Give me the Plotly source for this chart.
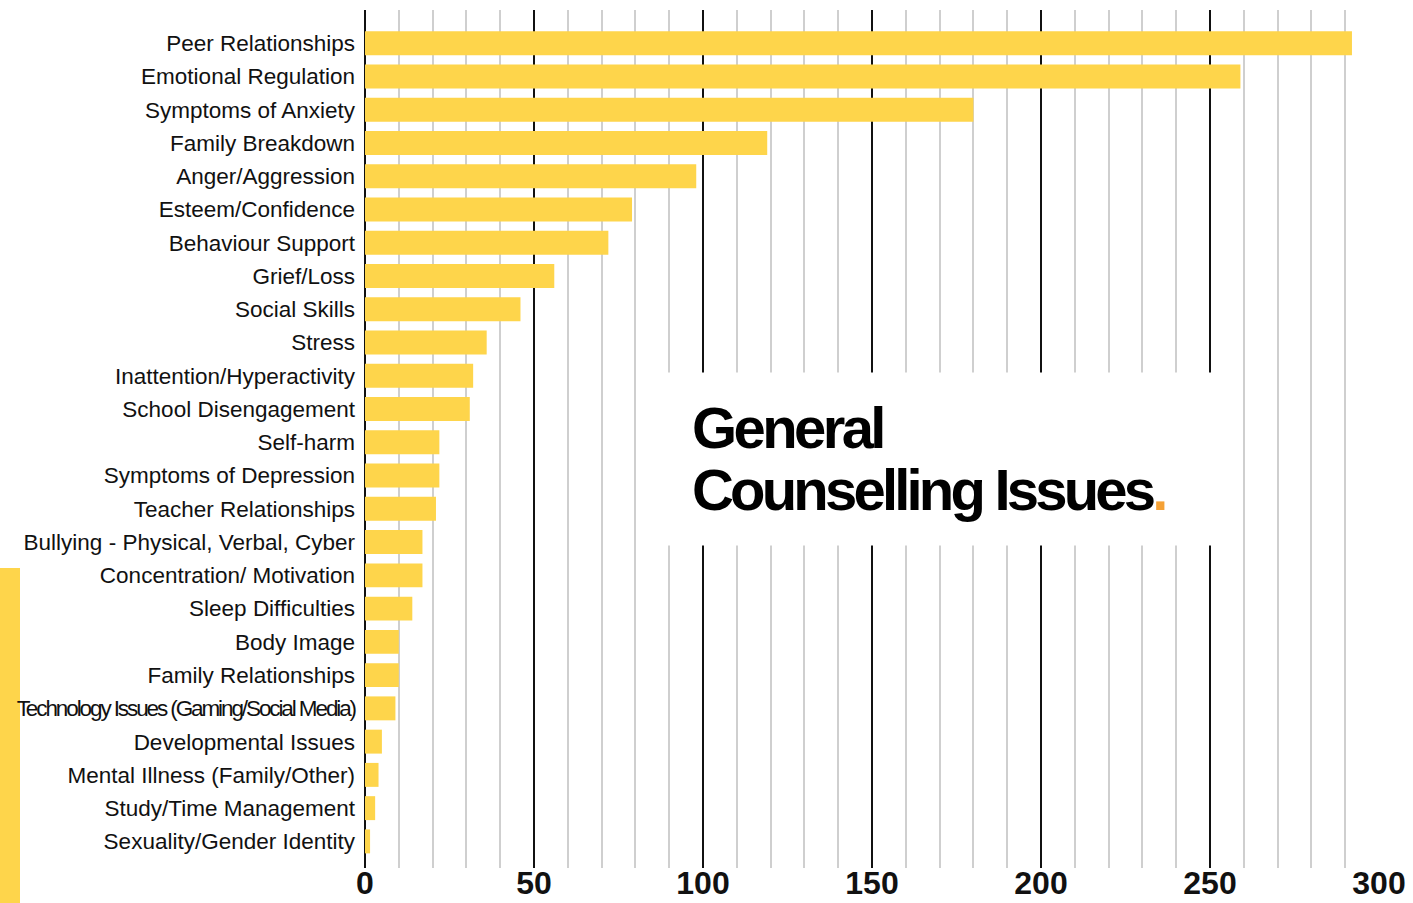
import plotly.graph_objects as go

categories = [
    "Peer Relationships", "Emotional Regulation", "Symptoms of Anxiety", "Family Breakdown",
    "Anger/Aggression", "Esteem/Confidence", "Behaviour Support", "Grief/Loss", "Social Skills",
    "Stress", "Inattention/Hyperactivity", "School Disengagement", "Self-harm",
    "Symptoms of Depression", "Teacher Relationships", "Bullying - Physical, Verbal, Cyber",
    "Concentration/ Motivation", "Sleep Difficulties", "Body Image", "Family Relationships",
    "Technology Issues (Gaming/Social Media)", "Developmental Issues",
    "Mental Illness (Family/Other)", "Study/Time Management", "Sexuality/Gender Identity",
]
values = [292, 259, 180, 119, 98, 79, 72, 56, 46, 36, 32, 31, 22, 22, 21, 17, 17, 14, 10, 10, 9, 5, 4, 3, 1.5]
x_ticks = [0, 50, 100, 150, 200, 250, 300]

YELLOW = "#FED54B"
ORANGE = "#F5A135"

tick_text = []
for c in categories:
    if c.startswith("Technology"):
        tick_text.append('<span style="letter-spacing:-2.1px">' + c + '</span>')
    else:
        tick_text.append(c)

fig = go.Figure()
fig.add_trace(go.Bar(
    x=values, y=list(range(len(categories))), orientation="h",
    marker=dict(color=YELLOW, line=dict(width=0)),
    width=0.72, hoverinfo="x+y",
))

fig.update_layout(
    width=1413, height=903,
    margin=dict(l=365, r=34, t=10, b=35, pad=0, autoexpand=False),
    paper_bgcolor="white", plot_bgcolor="white",
    showlegend=False,
    font=dict(family="Liberation Sans, Arial, sans-serif", color="#111111"),
    xaxis=dict(
        range=[0, 300], tickvals=x_ticks, ticktext=[str(v) for v in x_ticks],
        automargin=False,
        showgrid=True, gridcolor="#111111", gridwidth=2,
        zeroline=True, zerolinecolor="#111111", zerolinewidth=2,
        minor=dict(dtick=10, tick0=0, showgrid=True, gridcolor="#cfcfcf", gridwidth=2, ticks=""),
        ticks="", showline=False,
        tickfont=dict(family="Liberation Sans, Arial, sans-serif", size=32, color="#111111", weight="bold"),
        ticklabelstandoff=-7,
    ),
    yaxis=dict(
        range=[24.8, -1.0], tickvals=list(range(len(categories))), ticktext=tick_text,
        automargin=False,
        showgrid=False, zeroline=False, showline=False, ticks="",
        tickfont=dict(family="Liberation Sans, Arial, sans-serif", size=22.5, color="#111111"),
        ticklabelstandoff=9,
    ),
    bargap=0.28,
)

# white panel behind the title
fig.add_shape(type="rect", xref="x", yref="y", x0=87.5, x1=252.5, y0=9.9, y1=15.1,
              fillcolor="white", line=dict(width=0), layer="above")

# yellow accent strip at the left edge
fig.add_shape(type="rect", xref="paper", yref="paper",
              x0=-365/1014, x1=(20-365)/1014, y0=(868-568)/858, y1=(868-903)/858,
              fillcolor=YELLOW, line=dict(width=0), layer="below")

title_font = dict(family="Liberation Sans, Arial, sans-serif", size=58, color="#000000", weight="bold")
fig.add_annotation(
    xref="x", yref="paper", x=96.5, y=(868-461)/858, xanchor="left", yanchor="bottom",
    text='<span style="letter-spacing:-3.6px">General</span>',
    showarrow=False, align="left", font=title_font, borderpad=0,
)
fig.add_annotation(
    xref="x", yref="paper", x=96.5, y=(868-523)/858, xanchor="left", yanchor="bottom",
    text='<span style="letter-spacing:-3.8px">Counselling Issues</span><span style="color:' + ORANGE + '">.</span>',
    showarrow=False, align="left", font=title_font, borderpad=0,
)

fig.write_html("out.html")
